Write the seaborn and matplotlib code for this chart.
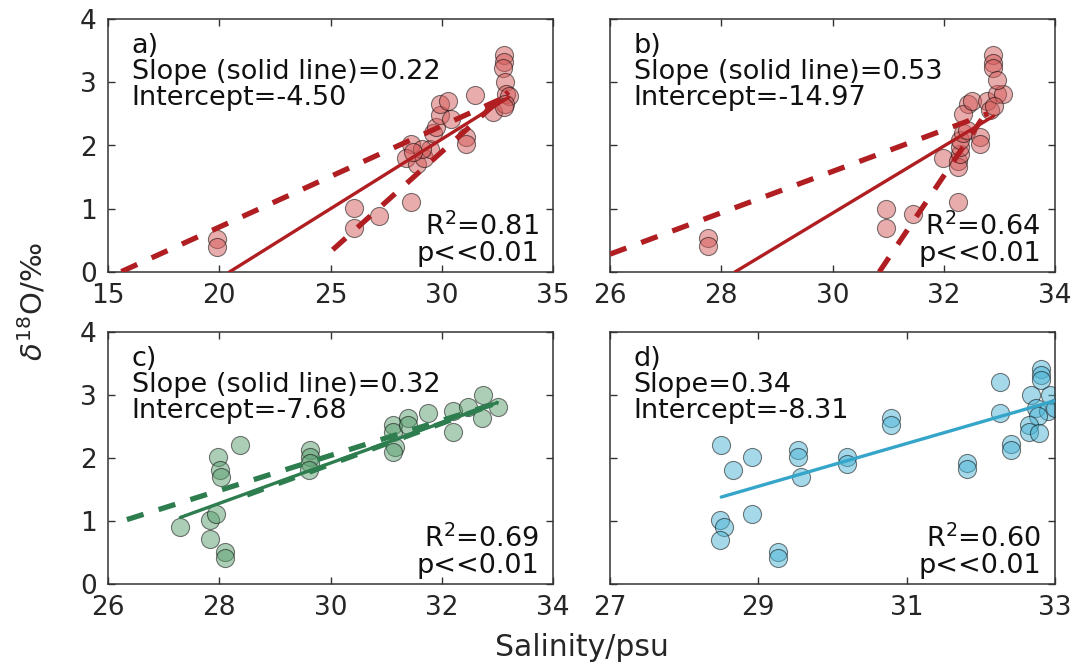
import matplotlib
matplotlib.use("Agg")
import matplotlib.pyplot as plt
import seaborn as sns
import numpy as np
import pandas as pd

# ---------------- data ----------------
a_sal = [19.9, 19.9, 26.05, 26.05, 27.2, 28.6, 28.64, 28.41, 28.9, 29.2, 29.45, 29.6, 29.76,
         29.9, 29.9, 30.3, 30.4, 31.1, 31.1, 31.5, 32.3, 32.8, 32.8, 32.75, 32.85, 32.9,
         33.0, 32.85, 32.8, 29.1, 28.7]
a_d18 = [0.52, 0.39, 1.01, 0.70, 0.89, 1.11, 2.03, 1.81, 1.71, 1.81, 1.95, 2.19, 2.29,
         2.48, 2.66, 2.71, 2.42, 2.13, 2.03, 2.80, 2.53, 3.43, 3.32, 3.22, 3.0, 2.82,
         2.79, 2.66, 2.61, 1.95, 1.9]

b_sal = [27.77, 27.77, 30.96, 30.96, 31.45, 32.26, 31.99, 32.26, 32.26, 32.29, 32.29, 32.29,
         32.35, 32.42, 32.65, 32.65, 32.44, 32.35, 32.5, 32.77, 32.83, 32.95, 33.07, 32.89,
         32.89, 32.89, 32.95, 32.9]
b_d18 = [0.54, 0.41, 0.99, 0.70, 0.92, 1.10, 1.81, 1.76, 1.66, 1.87, 1.97, 2.08,
         2.19, 2.25, 2.13, 2.03, 2.66, 2.50, 2.71, 2.71, 2.56, 2.82, 2.82, 3.43,
         3.30, 3.22, 3.03, 2.63]

c_sal = [27.29, 27.83, 27.95, 27.83, 28.10, 28.10, 27.97, 28.01, 28.03, 28.38, 29.64, 29.63,
         29.63, 29.62, 31.13, 31.13, 31.16, 31.13, 31.40, 31.40, 31.76, 32.21, 32.21, 32.48,
         32.72, 32.75, 33.02]
c_d18 = [0.91, 1.02, 1.11, 0.71, 0.51, 0.41, 2.02, 1.81, 1.70, 2.21, 2.13, 2.02,
         1.92, 1.81, 2.52, 2.42, 2.18, 2.10, 2.63, 2.52, 2.71, 2.74, 2.42, 2.81,
         2.63, 3.0, 2.81]

d_sal = [28.50, 28.66, 28.92, 28.48, 28.54, 28.48, 28.92, 29.27, 29.27, 29.53, 29.53, 29.57,
         30.2, 30.2, 30.79, 30.79, 31.82, 31.82, 32.26, 32.26, 32.41, 32.41, 32.68, 32.81,
         32.81, 32.81, 32.74, 32.93, 32.91, 32.77, 32.65, 32.65, 32.79, 33.0]
d_d18 = [2.21, 1.81, 2.01, 1.01, 0.90, 0.70, 1.11, 0.51, 0.41, 2.13, 2.02, 1.70,
         2.02, 1.90, 2.63, 2.52, 1.92, 1.82, 3.21, 2.71, 2.22, 2.13, 3.0, 3.42,
         3.32, 3.24, 2.79, 3.0, 2.74, 2.66, 2.52, 2.42, 2.40, 2.79]

# regression lines: (slope, intercept, x_start, x_end)
a_solid = (0.22, -4.50, 20.45, 33.0)
a_dash = [(0.16, -2.49, 15.6, 33.0), (0.316, -7.58, 25.1, 33.0)]
b_solid = (0.53, -14.97, 28.25, 32.9)
b_dash = [(0.327, -8.22, 26.0, 32.8), (1.31, -40.4, 30.84, 32.8)]
c_solid = (0.32, -7.68, 27.3, 33.0)
c_dash = [(0.278, -6.30, 26.34, 33.0), (0.325, -7.85, 28.5, 33.0)]
d_solid = (0.34, -8.31, 28.5, 33.0)
d_dash = []

labels = ["a)\nSlope (solid line)=0.22\nIntercept=-4.50",
          "b)\nSlope (solid line)=0.53\nIntercept=-14.97",
          "c)\nSlope (solid line)=0.32\nIntercept=-7.68",
          "d)\nSlope=0.34\nIntercept=-8.31"]
stats = ["R$^2$=0.81\np<<0.01", "R$^2$=0.64\np<<0.01",
         "R$^2$=0.69\np<<0.01", "R$^2$=0.60\np<<0.01"]
xlims = [(15, 35), (26, 34), (26, 34), (27, 33)]
xticks = [[15, 20, 25, 30, 35], [26, 28, 30, 32, 34], [26, 28, 30, 32, 34], [27, 29, 31, 33]]
yticks = [0, 1, 2, 3, 4]

line_colors = ["#B01E22", "#B01E22", "#2E7D4F", "#35A5C9"]
face_colors = ["#D45A5A", "#D45A5A", "#5A9E6F", "#4CB5D6"]

# ---------------- plotting ----------------
sns.set_style("ticks")
plt.rcParams['font.family'] = ['DejaVu Sans']
plt.rcParams['mathtext.fontset'] = 'dejavusans'

fig = plt.figure(figsize=(10.88, 6.64), dpi=100)
W, H = 1088, 664
boxes = [(108, 19, 553, 272), (610, 19, 1055, 272), (108, 332, 553, 584), (610, 332, 1055, 584)]
axes = []
for (x0, y0, x1, y1) in boxes:
    axes.append(fig.add_axes([x0 / W, 1 - y1 / H, (x1 - x0) / W, (y1 - y0) / H]))

data = [(a_sal, a_d18, a_solid, a_dash), (b_sal, b_d18, b_solid, b_dash),
        (c_sal, c_d18, c_solid, c_dash), (d_sal, d_d18, d_solid, d_dash)]

for i, ax in enumerate(axes):
    sal, d18, solid, dashes = data[i]
    df = pd.DataFrame({"sal": sal, "d18": d18})
    sns.scatterplot(data=df, x="sal", y="d18", ax=ax, s=170, color=face_colors[i],
                    alpha=0.5, edgecolor="black", linewidth=0.8, zorder=2)
    for coll in ax.collections:
        coll.set_edgecolor((0, 0, 0, 0.85))
    sl, ic, xa, xb = solid
    xs = np.array([xa, xb])
    sns.lineplot(x=xs, y=sl * xs + ic, ax=ax, color=line_colors[i], lw=2.4,
                 zorder=3, sort=False, estimator=None)
    for (sl, ic, xa, xb) in dashes:
        xs = np.array([xa, xb])
        sns.lineplot(x=xs, y=sl * xs + ic, ax=ax, color=line_colors[i], lw=3.8,
                     linestyle=(0, (3.3, 3.0)), zorder=3, sort=False, estimator=None)

    ax.set_xlim(*xlims[i])
    ax.set_ylim(0, 4)
    ax.set_xticks(xticks[i])
    ax.set_yticks(yticks)
    ax.set_xlabel("")
    ax.set_ylabel("")
    ax.tick_params(direction="in", top=True, right=True, length=5, width=1,
                   labelsize=19, pad=8, colors="#333333", labelcolor="#262626")
    if i in (1, 3):
        ax.set_yticklabels([])
    for sp in ax.spines.values():
        sp.set_visible(True)
        sp.set_color("#333333")
        sp.set_linewidth(1.1)
    ax.text(0.053, 0.945, labels[i], transform=ax.transAxes, ha="left", va="top",
            fontsize=19.5, linespacing=1.0, color="#111111")
    ax.text(0.968, 0.02, stats[i], transform=ax.transAxes, ha="right", va="bottom",
            fontsize=19.5, linespacing=0.98, color="#111111")

fig.text(33 / W, 1 - 302 / H, "$\\delta^{18}$O/‰", rotation=90, ha="center", va="center",
         fontsize=21, color="#262626")
fig.text(582 / W, 1 - 647 / H, "Salinity/psu", ha="center", va="center",
         fontsize=21.5, color="#262626")

fig.savefig("out.png", dpi=100)
